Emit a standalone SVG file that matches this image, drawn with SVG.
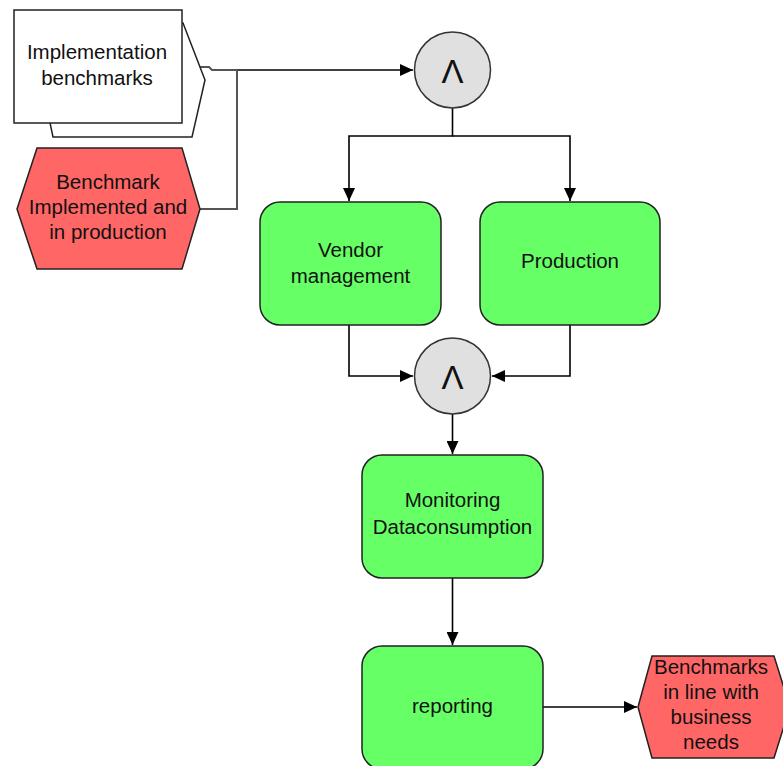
<svg xmlns="http://www.w3.org/2000/svg" width="783" height="766" viewBox="0 0 783 766">
<style>
text{font-family:"Liberation Sans",Arial,sans-serif;font-size:20.5px;fill:#111;text-anchor:middle}
.fn{fill:#66FF66;stroke:#222;stroke-width:1.5}
.ev{fill:#FF6666;stroke:#222;stroke-width:1.5}
.op{fill:#E0E0E0;stroke:#333;stroke-width:1.5}
.inf{fill:#fff;stroke:#222;stroke-width:1.5}
.c{fill:none;stroke:#000;stroke-width:1.6}
.cg{fill:none;stroke:#555;stroke-width:2}
.sym{font-size:33px}
</style>
<defs>
<marker id="ah" markerUnits="userSpaceOnUse" markerWidth="14" markerHeight="12" refX="13" refY="6" orient="auto">
<path d="M0,0 L13,6 L0,12 Z" fill="#000"/>
</marker>
</defs>
<g id="connectors">
<path class="cg" d="M182,67 H209 L212,70 H237"/>
<path class="c" d="M237,70 H413" marker-end="url(#ah)"/>
<path class="cg" d="M237,70 V209 H200"/>
<path class="c" d="M452.5,108 V136 H349 V201" marker-end="url(#ah)"/>
<path class="c" d="M452.5,136 H570 V201" marker-end="url(#ah)"/>
<path class="c" d="M349,325 V376 H413" marker-end="url(#ah)"/>
<path class="c" d="M570,325 V376 H492" marker-end="url(#ah)"/>
<path class="c" d="M452.5,414 V454" marker-end="url(#ah)"/>
<path class="c" d="M452.5,578 V645" marker-end="url(#ah)"/>
<path class="c" d="M543,707 H637" marker-end="url(#ah)"/>
</g>
<g id="implementation-benchmarks">
<polygon class="inf" points="50,23 183,23 205,80 192,137 53,137 50,123"/>
<rect class="inf" x="14" y="10" width="168" height="113"/>
<text x="97" y="59">Implementation</text>
<text x="97" y="85">benchmarks</text>
</g>
<g id="benchmark-implemented">
<polygon class="ev" points="17,209 37,148 182,148 200,209 182,269 37,269"/>
<text x="108" y="189">Benchmark</text>
<text x="108" y="214">Implemented and</text>
<text x="108" y="239">in production</text>
</g>
<g id="and1">
<circle class="op" cx="452.5" cy="70" r="38"/>
<text class="sym" x="452.5" y="83">Λ</text>
</g>
<g id="vendor-management">
<rect class="fn" x="260" y="202" width="181" height="123" rx="20"/>
<text x="350.5" y="257">Vendor</text>
<text x="350.5" y="283">management</text>
</g>
<g id="production">
<rect class="fn" x="480" y="202" width="180" height="123" rx="20"/>
<text x="570" y="268">Production</text>
</g>
<g id="and2">
<circle class="op" cx="452.5" cy="376" r="38"/>
<text class="sym" x="452.5" y="389">Λ</text>
</g>
<g id="monitoring">
<rect class="fn" x="362" y="455" width="181" height="123" rx="20"/>
<text x="452.5" y="507">Monitoring</text>
<text x="452.5" y="534">Dataconsumption</text>
</g>
<g id="reporting">
<rect class="fn" x="362" y="646" width="181" height="123" rx="20"/>
<text x="452.5" y="713">reporting</text>
</g>
<g id="benchmarks-in-line">
<polygon class="ev" points="638,707 652,656 774,656 790,707 774,758 652,758"/>
<text x="711" y="674">Benchmarks</text>
<text x="711" y="699">in line with</text>
<text x="711" y="724">business</text>
<text x="711" y="749">needs</text>
</g>
</svg>
